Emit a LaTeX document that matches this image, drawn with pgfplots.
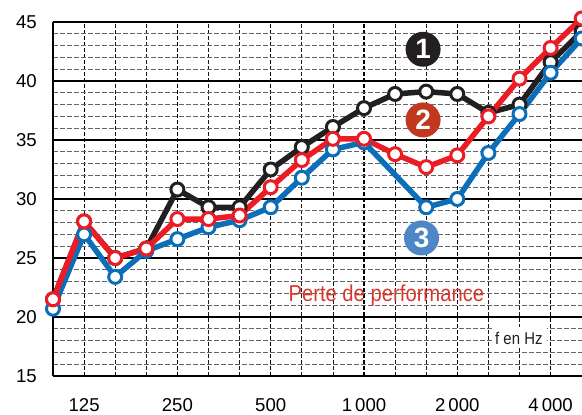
\documentclass[border=0pt]{standalone}
\usepackage{fontspec}
\setmainfont{Liberation Sans}
\newfontfamily\cond{Liberation Sans}[FakeStretch=0.88]
\usepackage{pgfplots}
\pgfplotsset{compat=1.18}

\definecolor{cblack}{HTML}{231F20}
\definecolor{cred}{HTML}{ED1C24}
\definecolor{cblue}{HTML}{0A6EB9}
\definecolor{ctwo}{HTML}{C0391E}
\definecolor{cthree}{HTML}{4D87C6}
\definecolor{ctext}{HTML}{D8382C}

% x = third-octave band index: 0 = 100 Hz ... 17 = 5000 Hz
\begin{document}
\begin{tikzpicture}
\useasboundingbox (-53bp,-39bp) rectangle (529bp,376bp);
\begin{axis}[
  at={(0,0)}, anchor=south west,
  scale only axis, width=528.7bp, height=354bp,
  xmin=0, xmax=17, ymin=15, ymax=45,
  axis x line*=bottom, axis y line*=left,
  axis line style={line width=1.4bp, black},
  xtick={1,4,7,10,13,16},
  xticklabels={125,250,500,1\,000,2\,000,4\,000},
  minor xtick={2,3,5,6,8,9,11,12,14,15},
  ytick={15,20,...,45},
  yticklabels={15,20,25,30,35,40,45},
  minor ytick={16,17,18,19,21,22,23,24,26,27,28,29,31,32,33,34,36,37,38,39,41,42,43,44},
  major tick length=0pt, minor tick length=0pt,
  tick label style={font=\fontsize{18.6bp}{20bp}\selectfont, inner sep=0pt},
  yticklabel style={anchor=east, xshift=-16bp},
  xticklabel style={anchor=north, yshift=-22bp},
  grid=both,
  major y grid style={solid, black, line width=1.1bp},
  minor y grid style={black!60, line width=0.8bp, dash pattern=on 5bp off 2bp},
  major x grid style={black, line width=1.1bp, dash pattern=on 4bp off 2bp},
  minor x grid style={black!90, line width=0.8bp, dash pattern=on 4bp off 2bp},
  clip=false,
  every axis plot/.append style={line width=5.5bp, line join=round},
  ]
\addplot[cblack, mark=*, mark size=6.5bp,
  mark options={solid, fill=white, draw=cblack, line width=3bp}]
  coordinates {(0,21.5)(1,28.1)(2,25.0)(3,25.8)(4,30.8)(5,29.3)(6,29.3)(7,32.5)(8,34.4)(9,36.1)
  (10,37.7)(11,38.9)(12,39.1)(13,38.9)(14,37.3)(15,38.0)(16,41.6)(17,44.2)};
\addplot[cblue, mark=*, mark size=6.5bp,
  mark options={solid, fill=white, draw=cblue, line width=3bp}]
  coordinates {(0,20.7)(1,27.0)(2,23.4)(3,25.6)(4,26.6)(5,27.6)(6,28.2)(7,29.3)(8,31.8)(9,34.2)
  (10,34.8)(12,29.3)(13,30.0)(14,33.9)(15,37.2)(16,40.7)(17,43.6)};
\addplot[cred, mark=*, mark size=6.5bp,
  mark options={solid, fill=white, draw=cred, line width=3bp}]
  coordinates {(0,21.5)(1,28.1)(2,25.0)(3,25.8)(4,28.3)(5,28.3)(6,28.6)(7,31.0)(8,33.3)(9,35.1)
  (10,35.1)(11,33.8)(12,32.7)(13,33.7)(14,37.0)(15,40.2)(16,42.8)(17,45.3)};

\node[circle, fill=cblack, minimum size=35bp, inner sep=0pt, text=white,
  font=\fontsize{28bp}{28bp}\selectfont\bfseries] at (axis cs:11.9,42.69) {1};
\node[circle, fill=ctwo, minimum size=35bp, inner sep=0pt, text=white,
  font=\fontsize{28bp}{28bp}\selectfont\bfseries] at (axis cs:11.9,36.7) {2};
\node[circle, fill=cthree, minimum size=35bp, inner sep=0pt, text=white,
  font=\fontsize{28bp}{28bp}\selectfont\bfseries] at (axis cs:11.85,26.7) {3};

\node[anchor=base, inner sep=0pt, text=ctext, font=\cond\fontsize{23bp}{23bp}\selectfont]
  at (axis cs:10.72,21.3) {Perte de performance};

\fill[white] (axis cs:14.106,17.35) rectangle (axis cs:15.875,19.18);
\node[anchor=base, inner sep=0pt, text=cblack, font=\cond\fontsize{17bp}{17bp}\selectfont]
  at (axis cs:14.98,17.71) {f en Hz};
\end{axis}
\end{tikzpicture}
\end{document}
